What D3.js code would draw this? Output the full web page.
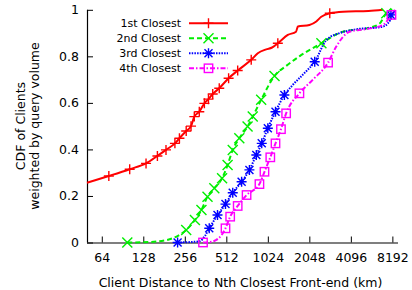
<!DOCTYPE html>
<html><head><meta charset="utf-8">
<script src="https://cdn.jsdelivr.net/npm/d3@7"></script>
<style>body{margin:0;background:#fff}svg{display:block}text{font-family:"DejaVu Sans",sans-serif;fill:#000}</style>
</head><body><svg id="c" width="412" height="290"></svg>
<script>
const xTicks = [64,128,256,512,1024,2048,4096,8192];
const yTicks = [0,0.2,0.4,0.6,0.8,1];
const yTickLabels = ["0","0.2","0.4","0.6","0.8","1"];
const seriesNames = ["1st Closest","2nd Closest","3rd Closest","4th Closest"];

const first = [[50,0.257],[72,0.286],[102,0.315],[134,0.34],[162,0.372],[187,0.398],[217,0.426],[234,0.448],[262,0.479],[284,0.5],[300,0.541],[326,0.562],[355,0.598],[380,0.616],[408,0.638],[455,0.663],[532,0.706],[619,0.739],[776,0.785],[866,0.813],[996,0.83],[1100,0.838],[1210,0.856],[1430,0.892],[1640,0.906],[1690,0.928],[2050,0.935],[2300,0.95],[2500,0.97],[2880,0.985],[3590,0.992],[5500,0.995],[7000,1.0]];
const firstMarks = [[72,0.286],[102,0.315],[134,0.34],[162,0.372],[187,0.398],[217,0.426],[234,0.448],[262,0.479],[284,0.5],[300,0.541],[326,0.562],[355,0.598],[380,0.616],[408,0.638],[455,0.663],[532,0.706],[619,0.739],[776,0.785],[1210,0.856],[2880,0.985]];

const second = [[98,0],[140,0.002],[187,0.01],[230,0.03],[262,0.054],[303,0.097],[338,0.14],[374,0.197],[419,0.233],[477,0.276],[523,0.333],[570,0.398],[636,0.448],[730,0.498],[796,0.541],[916,0.613],[1145,0.716],[1400,0.76],[1735,0.8],[2505,0.856],[3590,0.906],[5300,0.92],[6600,0.94],[7400,0.985],[8200,1.0]];
const secondMarks = [[98,0],[262,0.054],[303,0.097],[338,0.14],[374,0.197],[419,0.233],[477,0.276],[523,0.333],[570,0.398],[636,0.448],[730,0.498],[796,0.541],[916,0.613],[1145,0.716],[2505,0.856],[7400,0.985]];

const third = [[227,0],[280,0.002],[326,0.005],[360,0.03],[385,0.061],[442,0.118],[505,0.165],[570,0.214],[661,0.261],[753,0.312],[845,0.376],[925,0.426],[1024,0.491],[1164,0.562],[1350,0.634],[1553,0.677],[1900,0.73],[2240,0.777],[2720,0.87],[3400,0.9],[4240,0.914],[7000,0.928],[8250,0.978],[8500,1.0]];
const thirdMarks = [[227,0],[385,0.061],[442,0.118],[505,0.165],[570,0.214],[661,0.261],[753,0.312],[845,0.376],[925,0.426],[1024,0.491],[1164,0.562],[1350,0.634],[2240,0.777],[8000,0.978]];

const fourth = [[347,0],[400,0.003],[430,0.01],[470,0.03],[505,0.061],[546,0.111],[619,0.157],[718,0.204],[890,0.251],[968,0.304],[1067,0.366],[1164,0.426],[1275,0.487],[1390,0.555],[1735,0.641],[2165,0.699],[2800,0.773],[3210,0.842],[4010,0.906],[5300,0.917],[7000,0.935],[8070,0.978],[8600,1.0]];
const fourthMarks = [[347,0],[505,0.061],[546,0.111],[619,0.157],[718,0.204],[890,0.251],[968,0.304],[1067,0.366],[1164,0.426],[1275,0.487],[1390,0.555],[1735,0.641],[2800,0.773],[8070,0.978]];

const series = [
  {name: seriesNames[0], line: first, marks: firstMarks, color: "#ff0000", dash: null, sym: "plus"},
  {name: seriesNames[1], line: second, marks: secondMarks, color: "#00ee00", dash: "5,3", sym: "cross"},
  {name: seriesNames[2], line: third, marks: thirdMarks, color: "#0000ff", dash: "1.5,1.2", sym: "star"},
  {name: seriesNames[3], line: fourth, marks: fourthMarks, color: "#ff00ff", dash: "5,2,1.5,2", sym: "square"}
];

const svg = d3.select("#c");
const L = 87, R = 398, T = 9.8, B = 242.5;
const x = d3.scaleLog().base(2).domain([50, 9000]).range([L, R]);
const y = d3.scaleLinear().domain([0, 1]).range([B, T]);

// axes
const xAxis = d3.axisBottom(x).tickValues(xTicks).tickFormat(d3.format("d")).tickSizeInner(-6).tickSizeOuter(0).tickPadding(11);
const gx = svg.append("g").attr("transform", `translate(0,${B})`).call(xAxis);
const yAxis = d3.axisLeft(y).tickValues(yTicks).tickFormat((d,i)=>yTickLabels[i]).tickSizeInner(-6).tickSizeOuter(0).tickPadding(8);
const gy = svg.append("g").attr("transform", `translate(${L},0)`).call(yAxis);
[gx, gy].forEach(g => {
  g.select(".domain").attr("stroke", "#000").attr("stroke-width", 1.2);
  g.selectAll(".tick line").attr("stroke", "#000").attr("stroke-width", 1);
  g.selectAll("text").style("font-size", "12.5px").style("font-family", "DejaVu Sans").attr("fill", "#000");
});
gx.select(".domain").attr("d", `M${L},0.5H${R}`);
gy.select(".domain").attr("d", `M0.5,${B}V${T}`);

// labels
svg.append("text").attr("x", (L + R) / 2 - 2).attr("y", 287).attr("text-anchor", "middle").style("font-size", "12.5px").text("Client Distance to Nth Closest Front-end (km)");
const yl = svg.append("text").attr("transform", "translate(25,126) rotate(-90)").attr("text-anchor", "middle").style("font-size", "12.5px");
yl.append("tspan").attr("x", 0).attr("dy", 0).text("CDF of Clients");
yl.append("tspan").attr("x", 0).attr("dy", 14).text("weighted by query volume");

function symbol(g, type, cx, cy, color) {
  const s = 5;
  const a = g.append("g").attr("transform", `translate(${cx},${cy})`).attr("stroke", color).attr("stroke-width", 1.4).attr("fill", "none");
  if (type === "plus") {
    a.append("path").attr("d", `M${-s},0H${s}M0,${-s}V${s}`);
  } else if (type === "cross") {
    a.append("path").attr("d", `M${-s},${-s}L${s},${s}M${-s},${s}L${s},${-s}`);
  } else if (type === "star") {
    a.append("path").attr("d", `M${-s},0H${s}M0,${-s}V${s}M${-s*0.8},${-s*0.8}L${s*0.8},${s*0.8}M${-s*0.8},${s*0.8}L${s*0.8},${-s*0.8}`);
  } else {
    a.append("rect").attr("x", -4.2).attr("y", -4.2).attr("width", 8.4).attr("height", 8.4);
  }
}

const line = d3.line().x(d => x(d[0])).y(d => y(d[1])).curve(d3.curveMonotoneX);
const plot = svg.append("g");
series.forEach(s => {
  plot.append("path").attr("d", line(s.line)).attr("fill", "none").attr("stroke", s.color).attr("stroke-width", 2).attr("stroke-dasharray", s.dash);
});
series.forEach(s => {
  s.marks.forEach(m => symbol(plot, s.sym, x(m[0]), y(m[1]), s.color));
});

// legend
const lg = svg.append("g");
series.forEach((s, i) => {
  const yy = 23.3 + i * 15;
  lg.append("text").attr("x", 181).attr("y", yy).attr("dy", "0.35em").attr("text-anchor", "end").style("font-size", "11px").text(s.name);
  lg.append("line").attr("x1", 189).attr("x2", 228).attr("y1", yy).attr("y2", yy).attr("stroke", s.color).attr("stroke-width", 2).attr("stroke-dasharray", s.dash);
  symbol(lg, s.sym, 208.5, yy, s.color);
});
</script></body></html>
